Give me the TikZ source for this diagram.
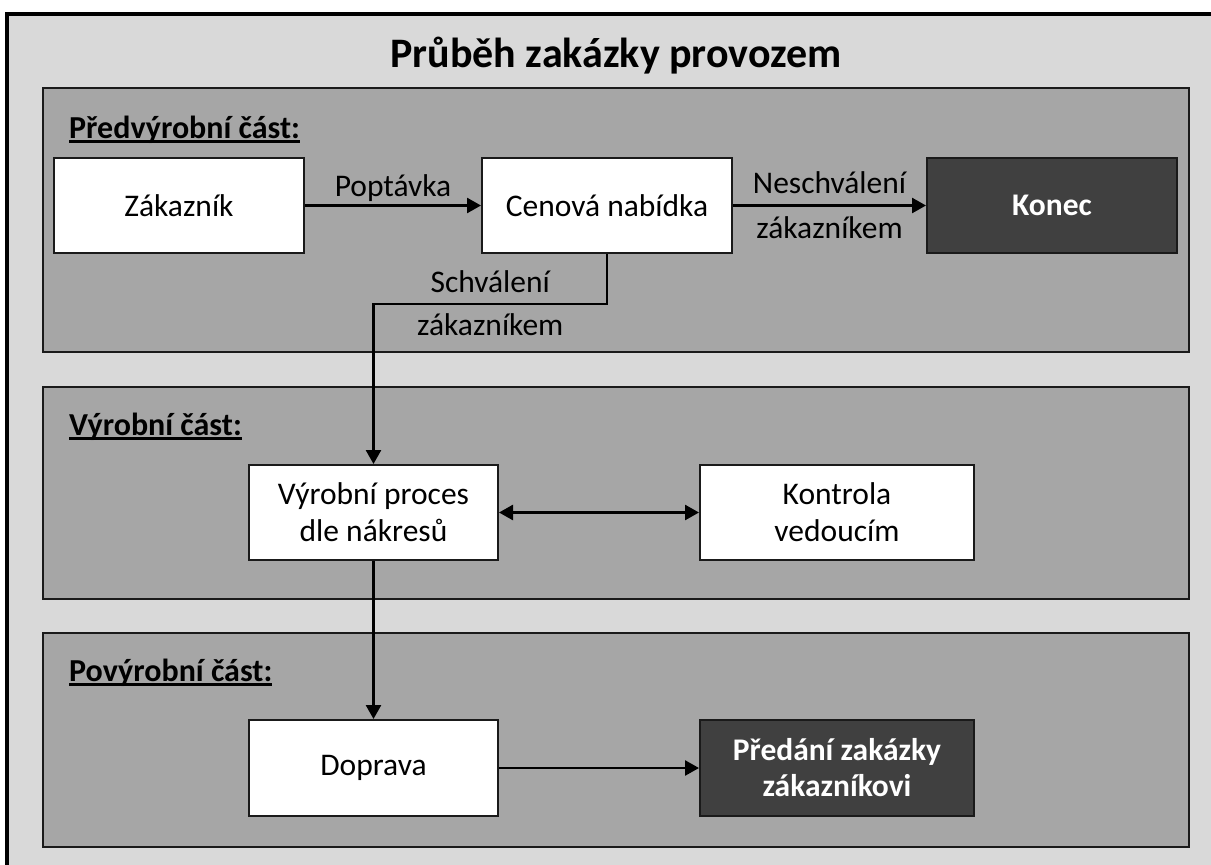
\documentclass[tikz,border=0pt]{standalone}
\usepackage{fontspec}
\setmainfont{Carlito}
\usetikzlibrary{arrows.meta}

\definecolor{pagebg}{HTML}{D9D9D9}
\definecolor{panelbg}{HTML}{A6A6A6}
\definecolor{darkfill}{HTML}{404040}
\definecolor{edgeline}{HTML}{1A1A1A}

% underlined section heading with a rule placed just under the baseline
\newcommand\sectionhead[1]{\setbox0\hbox{#1}\rlap{\rule[-5pt]{\wd0}{2.6pt}}\box0}

\begin{document}
\begin{tikzpicture}[x=1pt,y=-1pt,
  panel/.style={draw=edgeline, line width=2pt, fill=panelbg},
  boxbase/.style={draw=edgeline, line width=2pt, minimum height=95pt,
    inner sep=0pt, align=center},
  whitebox/.style={boxbase, fill=white, text=black, minimum width=250pt,
    font=\fontsize{31.5}{37}\selectfont},
  darkbox/.style={boxbase, fill=darkfill, text=white, minimum width=250pt,
    font=\fontsize{31.5}{36}\selectfont\bfseries},
  headlabel/.style={anchor=base west, inner sep=0pt,
    font=\fontsize{32}{38}\selectfont\bfseries},
  flowlabel/.style={anchor=base, inner sep=0pt,
    font=\fontsize{31.5}{37}\selectfont},
  flow/.style={line width=2.6pt, draw=black,
    -{Triangle[length=14pt,width=15pt]}},
  twoway/.style={line width=2.6pt, draw=black,
    {Triangle[length=14pt,width=15pt]}-{Triangle[length=14pt,width=15pt]}}
]
\path[use as bounding box] (0,0) rectangle (1211,865);
\clip (0,0) rectangle (1211,865);
\fill[white] (0,0) rectangle (1211,865);

% outer sheet
\draw[line width=4pt, fill=pagebg] (7,13.5) rectangle (1235,885);

% phase panels
\draw[panel] (43,87.5) rectangle (1189,352);
\draw[panel] (43,387) rectangle (1189,599);
\draw[panel] (43,633) rectangle (1189,847);

% title
\node[anchor=base, inner sep=0pt, font=\fontsize{42}{50}\selectfont\bfseries]
  (title) at (616,67) {Průběh zakázky provozem};

% phase headings
\node[headlabel] (hpre)  at (69,138) {\sectionhead{Předvýrobní část:}};
\node[headlabel] (hprod) at (69,435) {\sectionhead{Výrobní část:}};
\node[headlabel] (hpost) at (69,681) {\sectionhead{Povýrobní část:}};

% process steps
\node[whitebox] (zak)   at (179,205.5)  {Zákazník};
\node[whitebox] (cen)   at (607,205.5)  {Cenová nabídka};
\node[darkbox]  (konec) at (1052,205.5) {Konec};
\node[whitebox, minimum width=249pt] (vyr) at (373.5,512.5) {Výrobní proces\\dle nákresů};
\node[whitebox, minimum width=274pt] (kon) at (837,512.5) {Kontrola\\vedoucím};
\node[whitebox, minimum width=249pt, minimum height=96pt] (dop) at (373.5,768) {Doprava};
\node[darkbox, minimum width=274pt, minimum height=96pt] (pred) at (837,768) {Předání zakázky\\zákazníkovi};

% connectors
\draw[flow] (zak) -- (cen)
  node[flowlabel, midway, yshift=9.5pt] {Poptávka};
\draw[flow] (cen) -- (konec)
  node[flowlabel, midway, yshift=12.5pt] {Neschválení}
  node[flowlabel, midway, yshift=-32.5pt] {zákazníkem};

\coordinate (turn) at (607,304);
\draw[flow] (cen.south) -- (turn) -| (vyr.north);
\path (turn) -- (turn -| vyr.north)
  node[flowlabel, midway, yshift=12pt] {Schválení}
  node[flowlabel, midway, yshift=-31pt] {zákazníkem};

\draw[twoway] (vyr) -- (kon);
\draw[flow] (vyr) -- (dop);
\draw[flow] (dop) -- (pred);
\end{tikzpicture}
\end{document}
